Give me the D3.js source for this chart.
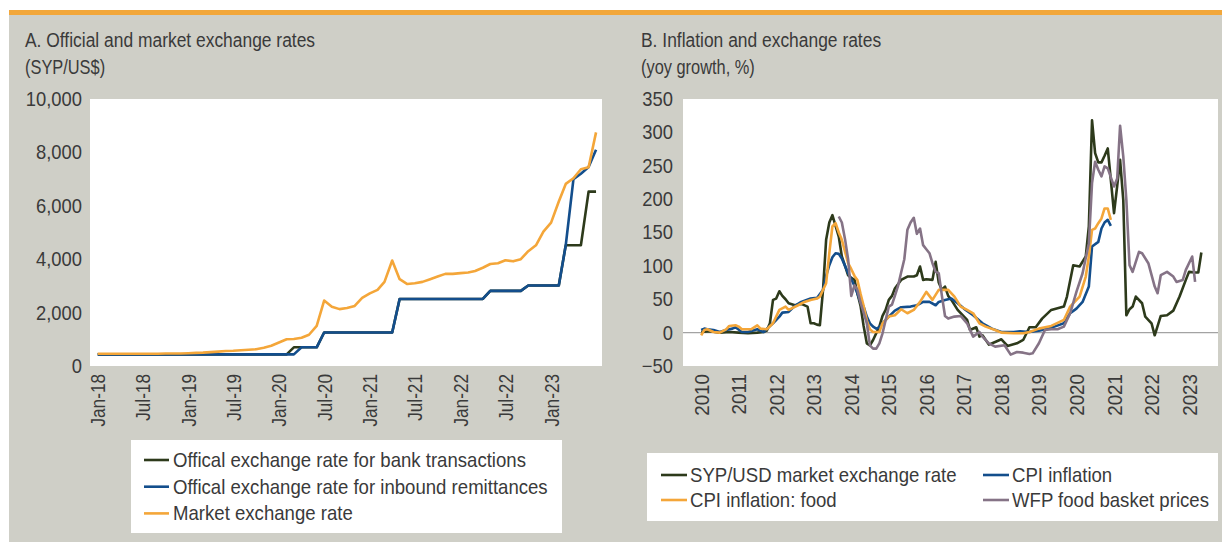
<!DOCTYPE html>
<html>
<head>
<meta charset="utf-8">
<script src="https://cdn.jsdelivr.net/npm/d3@7"></script>
<style>
  body { margin: 0; background: #fff; }
  text { font-family: "Liberation Sans", Arial, sans-serif; fill: #3a3a3a; }
</style>
</head>
<body>
<div id="chart"></div>
<script>
// ---- Panel A data (monthly, Jan-18 .. Jul-23) ----
const startA = "2018-01", endA = "2023-08";
const bankRate = [434,434,434,434,434,434,434,434,434,434,434,434,434,434,434,434,434,434,434,434,434,434,434,434,434,434,
  700,700,700,700,1256,1256,1256,1256,1256,1256,1256,1256,1256,1256,
  2512,2512,2512,2512,2512,2512,2512,2512,2512,2512,2512,2512,
  2814,2814,2814,2814,2814,3015,3015,3015,3015,3015,4522,4522,4522,6532,6532];
const remitRate = [434,434,434,434,434,434,434,434,434,434,434,434,434,434,434,434,434,434,434,434,434,434,434,434,434,434,434,
  700,700,700,1256,1256,1256,1256,1256,1256,1256,1256,1256,1256,
  2512,2512,2512,2512,2512,2512,2512,2512,2512,2512,2512,2512,
  2814,2814,2814,2814,2814,3015,3015,3015,3015,3015,4522,7000,7200,7450,8100];
const marketRate = [460,460,460,460,460,460,460,460,460,470,470,470,480,490,500,520,540,560,570,590,610,630,680,760,880,
  1000,1010,1060,1170,1500,2450,2220,2130,2170,2250,2550,2720,2850,3150,3950,3250,3070,3100,3150,3250,3350,3450,3450,
  3480,3500,3560,3680,3820,3850,3960,3920,4000,4300,4520,5030,5370,6160,6820,7030,7370,7440,8750];
const xLabelsA = ["Jan-18","Jul-18","Jan-19","Jul-19","Jan-20","Jul-20","Jan-21","Jul-21","Jan-22","Jul-22","Jan-23"];
const yTicksA = [0,2000,4000,6000,8000,10000];

// ---- Panel B data (yoy growth, %) ----
const sypUsd = [["2010-01",1],["2010-04",2],["2010-07",0],["2010-10",1],["2011-01",0],["2011-04",-1],["2011-07",0],
  ["2011-09",1],["2011-10",3],["2011-11",14],["2011-12",49],["2012-01",51],["2012-02",62],["2012-03",55],["2012-04",50],
  ["2012-05",44],["2012-07",41],["2012-09",43],["2012-11",39],["2012-12",14],["2013-01",14],["2013-02",12],["2013-03",11],
  ["2013-04",64],["2013-05",139],["2013-06",165],["2013-07",176],["2013-08",160],["2013-09",144],["2013-10",114],
  ["2013-11",100],["2013-12",86],["2014-01",82],["2014-02",79],["2014-03",59],["2014-04",40],["2014-05",10],["2014-06",-16],
  ["2014-07",-19],["2014-08",-11],["2014-10",9],["2014-11",25],["2014-12",34],["2015-01",49],["2015-02",55],["2015-03",66],
  ["2015-05",79],["2015-07",84],["2015-09",84],["2015-10",86],["2015-11",99],["2015-12",79],["2016-01",80],["2016-03",79],
  ["2016-04",106],["2016-05",75],["2016-06",64],["2016-07",69],["2016-08",55],["2016-09",49],["2016-11",34],["2017-02",19],
  ["2017-03",4],["2017-05",8],["2017-06",-6],["2017-07",-4],["2017-09",-18],["2017-11",-14],["2018-01",-10],["2018-03",-20],
  ["2018-06",-16],["2018-08",-11],["2018-10",8],["2018-12",8],["2019-02",21],["2019-05",34],["2019-09",39],["2019-10",54],
  ["2019-12",101],["2020-02",99],["2020-04",114],["2020-05",159],["2020-06",318],["2020-07",269],["2020-08",255],
  ["2020-09",255],["2020-10",265],["2020-11",276],["2020-12",229],["2021-01",179],["2021-02",220],["2021-03",259],
  ["2021-04",199],["2021-05",26],["2021-06",35],["2021-07",39],["2021-08",54],["2021-10",44],["2021-11",24],["2022-01",14],
  ["2022-02",-4],["2022-04",25],["2022-06",26],["2022-08",33],["2022-10",54],["2022-12",79],["2023-01",91],["2023-03",90],
  ["2023-04",90],["2023-05",120]];
const cpi = [["2010-01",4],["2010-02",6],["2010-03",5],["2010-05",4],["2010-07",1],["2010-09",4],["2010-11",6],["2010-12",8],
  ["2011-02",1],["2011-04",1],["2011-07",5],["2011-09",1],["2011-11",10],["2011-12",14],["2012-02",24],["2012-03",30],
  ["2012-05",31],["2012-07",40],["2012-09",46],["2012-12",51],["2013-02",52],["2013-04",64],["2013-05",85],["2013-06",101],
  ["2013-07",113],["2013-08",119],["2013-09",118],["2013-10",111],["2013-11",100],["2013-12",89],["2014-01",80],["2014-02",70],
  ["2014-03",59],["2014-04",45],["2014-05",39],["2014-06",24],["2014-07",14],["2014-08",9],["2014-09",6],["2014-10",8],
  ["2014-11",14],["2015-01",24],["2015-03",33],["2015-05",38],["2015-08",39],["2015-10",41],["2015-12",46],["2016-02",46],
  ["2016-04",41],["2016-05",46],["2016-07",49],["2016-09",51],["2016-11",44],["2017-01",36],["2017-04",26],["2017-07",14],
  ["2017-10",6],["2018-01",1],["2018-05",1],["2018-07",2],["2018-10",1],["2019-01",3],["2019-04",6],["2019-06",9],
  ["2019-09",14],["2019-11",29],["2020-01",36],["2020-03",46],["2020-05",69],["2020-06",129],["2020-08",136],["2020-09",156],
  ["2020-10",165],["2020-11",169],["2020-12",160]];
const cpiFood = [["2010-01",-4],["2010-02",4],["2010-03",5],["2010-05",1],["2010-07",0],["2010-09",5],["2010-10",10],
  ["2010-12",11],["2011-01",9],["2011-02",5],["2011-05",5],["2011-07",11],["2011-08",6],["2011-10",5],["2011-12",14],
  ["2012-02",34],["2012-04",39],["2012-05",34],["2012-08",41],["2012-10",46],["2012-12",49],["2013-02",51],["2013-03",54],
  ["2013-05",74],["2013-06",119],["2013-07",159],["2013-08",164],["2013-09",150],["2013-10",139],["2013-12",104],
  ["2014-01",95],["2014-02",85],["2014-03",79],["2014-04",58],["2014-05",40],["2014-06",18],["2014-07",5],["2014-08",1],
  ["2014-10",1],["2014-11",14],["2015-01",24],["2015-03",26],["2015-05",35],["2015-07",29],["2015-09",34],["2015-11",46],
  ["2016-01",61],["2016-03",49],["2016-05",64],["2016-08",64],["2016-10",54],["2016-12",39],["2017-02",34],["2017-04",29],
  ["2017-06",14],["2017-08",9],["2017-11",4],["2018-01",0],["2018-05",-1],["2018-08",-1],["2018-10",1],["2019-01",6],
  ["2019-05",10],["2019-09",19],["2019-11",39],["2020-02",54],["2020-04",84],["2020-05",114],["2020-06",154],["2020-07",156],
  ["2020-08",164],["2020-09",171],["2020-10",186],["2020-11",186],["2020-12",169]];
const wfpBasket = [["2013-09",174],["2013-10",165],["2013-11",140],["2013-12",110],["2014-01",55],["2014-02",71],["2014-03",64],
  ["2014-04",45],["2014-05",30],["2014-06",14],["2014-07",-19],["2014-08",-24],["2014-09",-24],["2014-10",-16],["2014-11",-1],
  ["2015-01",39],["2015-02",42],["2015-03",55],["2015-04",70],["2015-05",90],["2015-06",110],["2015-07",154],["2015-08",165],
  ["2015-09",172],["2015-10",148],["2015-11",156],["2015-12",131],["2016-01",125],["2016-02",119],["2016-03",104],
  ["2016-04",91],["2016-05",89],["2016-06",55],["2016-07",25],["2016-08",21],["2016-10",24],["2016-12",25],["2017-02",14],
  ["2017-04",-6],["2017-06",1],["2017-07",-6],["2017-09",-16],["2017-11",-21],["2018-02",-19],["2018-04",-33],["2018-06",-29],
  ["2018-08",-30],["2018-10",-32],["2018-11",-31],["2019-01",-16],["2019-03",4],["2019-05",5],["2019-07",5],["2019-09",9],
  ["2019-11",29],["2020-01",61],["2020-03",89],["2020-05",134],["2020-06",224],["2020-07",256],["2020-08",244],["2020-09",234],
  ["2020-10",249],["2020-11",246],["2021-01",219],["2021-02",231],["2021-03",310],["2021-04",264],["2021-05",199],
  ["2021-06",101],["2021-07",91],["2021-09",121],["2021-10",119],["2021-12",104],["2022-02",69],["2022-03",59],["2022-04",86],
  ["2022-06",91],["2022-08",84],["2022-09",76],["2022-11",79],["2022-12",94],["2023-02",114],["2023-03",76]];
const xLabelsB = ["2010","2011","2012","2013","2014","2015","2016","2017","2018","2019","2020","2021","2022","2023"];
const yTicksB = [-50,0,50,100,150,200,250,300,350];

const colors = { green: "#2d3a1b", blue: "#134e8c", orange: "#f4a639", purple: "#857386" };

const width = 1222, height = 542;
const svg = d3.select("#chart").append("svg")
  .attr("width", width)
  .attr("height", height);

// page frame
svg.append("rect").attr("x", 9).attr("y", 15).attr("width", width - 9).attr("height", height - 15).attr("fill", "#cfcfc7");
svg.append("rect").attr("x", 9).attr("y", 10).attr("width", width - 9).attr("height", 5).attr("fill", "#f2a73a");

const parseMonth = d3.timeParse("%Y-%m");

// the source uses a condensed face; squeeze Liberation Sans horizontally
function squeeze(sel, s) {
  sel.each(function () {
    let t = d3.select(this);
    let x = +t.attr("x") || 0, y = +t.attr("y") || 0;
    t.attr("x", 0).attr("y", 0).attr("transform", `translate(${x},${y}) scale(${s},1)`);
  });
}

function label(g, x, y, size, s, txt, fill) {
  g.append("text").attr("x", x).attr("y", y).attr("font-size", size).attr("fill", fill).text(txt).call(squeeze, s);
}

function panel(opts) {
  let g = svg.append("g");
  label(g, opts.tx, 47, 21, 0.83, opts.title, "#222");
  label(g, opts.tx, 74, 20, 0.82, opts.sub, "#333");

  g.append("rect")
    .attr("x", opts.x.range()[0]).attr("y", opts.y.range()[1])
    .attr("width", opts.x.range()[1] - opts.x.range()[0])
    .attr("height", opts.y.range()[0] - opts.y.range()[1])
    .attr("fill", "#fff");

  g.append("g")
    .attr("transform", `translate(${opts.x.range()[0]},0)`)
    .call(d3.axisLeft(opts.y).tickValues(opts.yTicks).tickSize(0).tickPadding(opts.yPad).tickFormat(opts.yFormat))
    .call(a => a.select(".domain").remove())
    .selectAll("text").attr("font-size", 20).attr("fill", "#3a3a3a").style("font-family", null)
    .call(squeeze, 0.92);

  g.append("g")
    .attr("transform", `translate(0,${opts.y.range()[0]})`)
    .call(d3.axisBottom(opts.x).tickValues(opts.xTicks).tickSize(0).tickFormat(opts.xFormat))
    .call(a => a.select(".domain").remove())
    .selectAll("text")
    .attr("font-size", 20).attr("fill", "#3a3a3a")
    .attr("text-anchor", "end")
    .attr("x", 0).attr("y", 0).attr("dy", "0.35em")
    .attr("transform", `rotate(-90) translate(-8,0) scale(${opts.xSqueeze},1)`);

  return g;
}

// ---- Panel A ----
const monthsA = d3.timeMonth.range(parseMonth(startA), parseMonth(endA));
const xA = d3.scaleTime().domain([new Date(2017, 11, 1), new Date(2023, 6, 25)]).range([90, 602]);
const yA = d3.scaleLinear().domain([0, 10000]).range([366, 99]);
const parseA = d3.timeParse("%b-%y");

const gA = panel({
  tx: 25, title: "A. Official and market exchange rates", sub: "(SYP/US$)",
  x: xA, y: yA, yTicks: yTicksA, yPad: 8, yFormat: d3.format(","),
  xTicks: xLabelsA.map(parseA), xFormat: d3.timeFormat("%b-%y"), xSqueeze: 0.86
});

const lineA = d3.line().x((d, i) => xA(monthsA[i])).y(d => yA(d));
[[bankRate, colors.green], [remitRate, colors.blue], [marketRate, colors.orange]].forEach(([vals, c]) => {
  gA.append("path").datum(vals)
    .attr("d", lineA)
    .attr("fill", "none").attr("stroke", c).attr("stroke-width", 2.6)
    .attr("stroke-linejoin", "round");
});

// legend A
const legA = gA.append("g");
legA.append("rect").attr("x", 131).attr("y", 440).attr("width", 431).attr("height", 93).attr("fill", "#fff");
[["Offical exchange rate for bank transactions", colors.green],
 ["Offical exchange rate for inbound remittances", colors.blue],
 ["Market exchange rate", colors.orange]].forEach(([t, c], i) => {
  let cy = 460 + i * 26.7;
  legA.append("line").attr("x1", 144).attr("x2", 169).attr("y1", cy).attr("y2", cy).attr("stroke", c).attr("stroke-width", 2.6);
  let tx = legA.append("text").attr("x", 173).attr("y", cy).attr("dy", "0.35em").attr("font-size", 20).attr("fill", "#333").text(t);
  squeeze(tx, 0.93);
});

// ---- Panel B ----
const xB = d3.scaleTime().domain([new Date(2009, 6, 8), new Date(2023, 9, 10)]).range([683, 1218]);
const yB = d3.scaleLinear().domain([-50, 350]).range([366, 99]);

const gB = panel({
  tx: 641, title: "B. Inflation and exchange rates", sub: "(yoy growth, %)",
  x: xB, y: yB, yTicks: yTicksB, yPad: 10, yFormat: d3.format("d"),
  xTicks: xLabelsB.map(d3.timeParse("%Y")), xFormat: d3.timeFormat("%Y"), xSqueeze: 0.94
});

gB.append("line")
  .attr("x1", xB.range()[0]).attr("x2", xB.range()[1])
  .attr("y1", yB(0)).attr("y2", yB(0))
  .attr("stroke", "#a3a3a3").attr("stroke-width", 1.2);

const lineB = d3.line().x(d => xB(parseMonth(d[0]))).y(d => yB(d[1]));
[[sypUsd, colors.green], [cpi, colors.blue], [cpiFood, colors.orange], [wfpBasket, colors.purple]].forEach(([s, c]) => {
  gB.append("path").datum(s)
    .attr("d", lineB)
    .attr("fill", "none").attr("stroke", c).attr("stroke-width", 2.6)
    .attr("stroke-linejoin", "round");
});

// legend B
const legB = gB.append("g");
legB.append("rect").attr("x", 647).attr("y", 453).attr("width", 571).attr("height", 68).attr("fill", "#fff");
[["SYP/USD market exchange rate", colors.green, 0, 0],
 ["CPI inflation", colors.blue, 1, 0],
 ["CPI inflation: food", colors.orange, 0, 1],
 ["WFP food basket prices", colors.purple, 1, 1]].forEach(([t, c, col, row]) => {
  let x0 = col ? 983 : 661, cy = 475 + row * 25;
  legB.append("line").attr("x1", x0).attr("x2", x0 + 26).attr("y1", cy).attr("y2", cy).attr("stroke", c).attr("stroke-width", 2.6);
  let tx = legB.append("text").attr("x", x0 + 29).attr("y", cy).attr("dy", "0.35em").attr("font-size", 20).attr("fill", "#333").text(t);
  squeeze(tx, 0.93);
});
</script>
</body>
</html>
